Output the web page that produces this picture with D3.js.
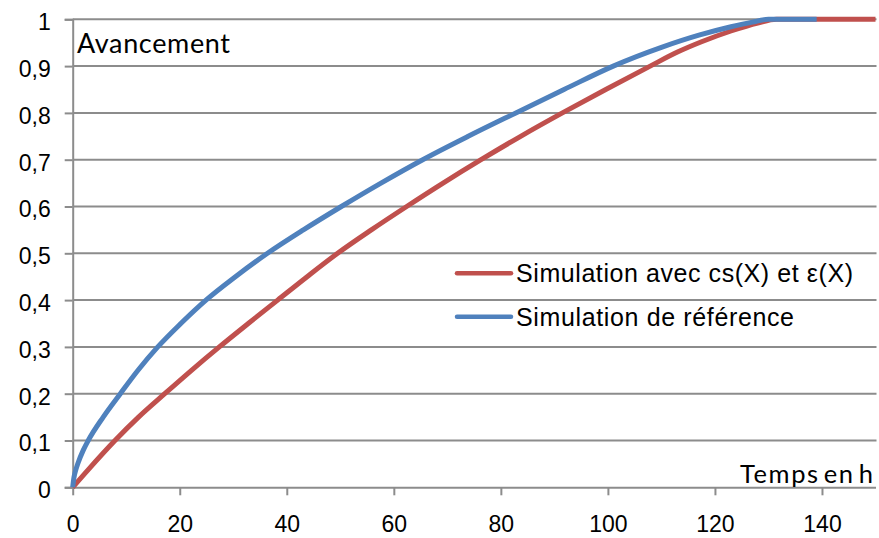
<!DOCTYPE html>
<html>
<head>
<meta charset="utf-8">
<script src="https://cdn.jsdelivr.net/npm/d3@7"></script>
<style>
  html, body { margin: 0; padding: 0; background: #fff; }
  svg { display: block; }
</style>
</head>
<body>
<svg id="chart" width="879" height="538"></svg>
<script>
// Time (h) and progress for the reference simulation
const tRef = [0, 0.25, 0.5, 1, 2, 2.9, 5.7, 8.9, 12.2, 15.9, 20.2, 24.9, 30.4, 36.4, 43.1, 50.2, 57.6, 65.4, 73.9, 82.8, 91.8, 101, 110, 117, 123, 127, 130, 139];
const yRef = [0, 0.022, 0.034, 0.052, 0.08, 0.1, 0.15, 0.2, 0.25, 0.3, 0.35, 0.4, 0.45, 0.5, 0.55, 0.6, 0.65, 0.7, 0.75, 0.8, 0.85, 0.9, 0.94, 0.966, 0.984, 0.994, 1.0, 1.0];

// Time (h) and progress for the simulation with cs(X) and ε(X)
const tCs = [0, 3, 7.9, 12.3, 17.2, 22.2, 27.4, 32.8, 38.3, 43.8, 49.5, 55.8, 62.4, 69.2, 76.3, 83.7, 91.5, 99.6, 107.9, 113, 117.5, 123, 128, 131.5, 150];
const yCs = [0, 0.039, 0.1, 0.15, 0.2, 0.25, 0.3, 0.35, 0.4, 0.45, 0.5, 0.55, 0.6, 0.65, 0.7, 0.75, 0.8, 0.85, 0.9, 0.93, 0.952, 0.975, 0.992, 1.0, 1.0];

const xTicks = [0, 20, 40, 60, 80, 100, 120, 140];
const yTicks = [0, 0.1, 0.2, 0.3, 0.4, 0.5, 0.6, 0.7, 0.8, 0.9, 1];

const seriesNames = ["Simulation avec cs(X) et ε(X)", "Simulation de référence"];
const seriesColors = ["#C0504D", "#4F81BD"];

const svg = d3.select("#chart");
const plotLeft = 72.7, plotRight = 875.5, plotTop = 19.3, plotBottom = 487.3;

const x = d3.scaleLinear().domain([0, 150]).range([plotLeft, plotRight]);
const y = d3.scaleLinear().domain([0, 1]).range([plotBottom, plotTop]);

const gridColor = "#8c8c8c";
const tickFont = "'Liberation Sans', Arial, sans-serif";
const titleFont = "Lato, 'Open Sans', sans-serif";
const fmt = v => (v === 0 || v === 1) ? String(v) : d3.format(".1f")(v).replace(".", ",");

// Horizontal gridlines
svg.append("g")
  .selectAll("line")
  .data(yTicks.filter(v => v > 0))
  .join("line")
  .attr("x1", plotLeft).attr("x2", plotRight + 1)
  .attr("y1", d => y(d)).attr("y2", d => y(d))
  .attr("stroke", gridColor).attr("stroke-width", 2);

// Y axis
const yAxis = svg.append("g")
  .attr("transform", `translate(${plotLeft},0)`)
  .call(d3.axisLeft(y).tickValues(yTicks).tickFormat(fmt).tickSize(8).tickPadding(14));
yAxis.select(".domain").attr("stroke", gridColor).attr("stroke-width", 2);
yAxis.selectAll(".tick line").attr("stroke", gridColor).attr("stroke-width", 2);
yAxis.selectAll(".tick text")
  .attr("font-family", tickFont)
  .attr("font-size", 23).attr("fill", "#000")
  .attr("dy", "0.45em");

// X axis
const xAxis = svg.append("g")
  .attr("transform", `translate(0,${plotBottom})`)
  .call(d3.axisBottom(x).tickValues(xTicks).tickSize(8).tickPadding(20).tickSizeOuter(0));
xAxis.select(".domain").attr("stroke", gridColor).attr("stroke-width", 2);
xAxis.selectAll(".tick line").attr("stroke", gridColor).attr("stroke-width", 2);
xAxis.selectAll(".tick text")
  .attr("font-family", tickFont)
  .attr("font-size", 23).attr("fill", "#000");

// Curves
const line = d3.line().x(d => x(d[0])).y(d => y(d[1])).curve(d3.curveMonotoneX);
const series = [
  { pts: d3.zip(tCs, yCs), color: seriesColors[0] },
  { pts: d3.zip(tRef, yRef), color: seriesColors[1] }
];
svg.append("g")
  .selectAll("path")
  .data(series)
  .join("path")
  .attr("d", d => line(d.pts))
  .attr("fill", "none")
  .attr("stroke", d => d.color)
  .attr("stroke-width", 5)
  .attr("stroke-linejoin", "round");

// Axis titles
svg.append("text")
  .attr("x", 77).attr("y", 52.5)
  .attr("font-family", titleFont)
  .attr("font-size", 27)
  .attr("textLength", 153)
  .attr("lengthAdjust", "spacing")
  .attr("fill", "#000")
  .text("Avancement");

svg.append("text")
  .attr("x", 740).attr("y", 483)
  .attr("font-family", titleFont)
  .attr("font-size", 25.5)
  .attr("textLength", 133)
  .attr("lengthAdjust", "spacing")
  .attr("word-spacing", -4)
  .attr("fill", "#000")
  .text("Temps en h");

// Legend
const legend = svg.append("g");
const legendRows = [273.3, 316.7];
const legendWidths = [337, 278];
seriesNames.forEach((name, i) => {
  legend.append("line")
    .attr("x1", 457).attr("x2", 511)
    .attr("y1", legendRows[i]).attr("y2", legendRows[i])
    .attr("stroke", seriesColors[i]).attr("stroke-width", 4.5)
    .attr("stroke-linecap", "round");
  legend.append("text")
    .attr("x", 516).attr("y", legendRows[i] + 9)
    .attr("font-family", tickFont)
    .attr("font-size", 25)
    .attr("textLength", legendWidths[i])
    .attr("lengthAdjust", "spacing")
    .attr("fill", "#000")
    .text(name);
});
</script>
</body>
</html>
